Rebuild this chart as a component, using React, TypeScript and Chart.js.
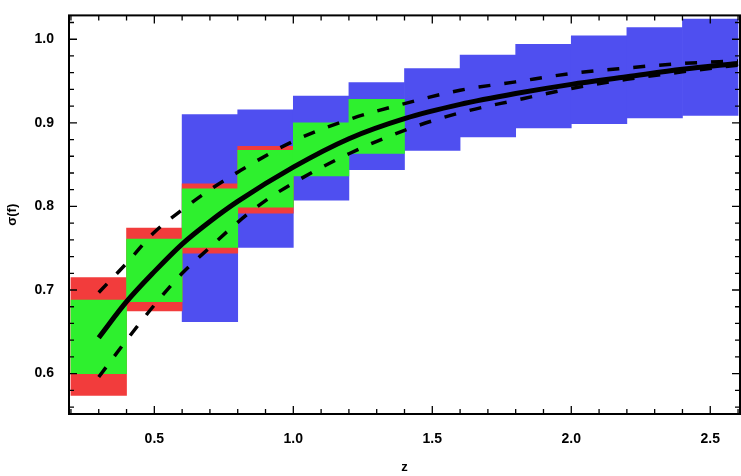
import React, { useEffect, useRef } from "react";
import { Chart, registerables } from "chart.js";

Chart.register(...registerables);

// Bins (lower edges) of width 0.2 in z
const binLow = [0.2, 0.4, 0.6, 0.8, 1.0, 1.2, 1.4, 1.6, 1.8, 2.0, 2.2, 2.4];
const binWidth = 0.2;

// Outer (blue) band
const blueLow = [null, null, 0.662, 0.751, 0.8075, 0.844, 0.867, 0.883, 0.894, 0.899, 0.906, 0.909];
const blueHigh = [null, null, 0.91, 0.9155, 0.932, 0.948, 0.965, 0.981, 0.994, 1.004, 1.014, 1.024];

// Middle (red) band
const redLow = [0.574, 0.675, 0.744, 0.792, null, null, null, null, null, null, null, null];
const redHigh = [0.715, 0.774, 0.827, 0.872, null, null, null, null, null, null, null, null];

// Inner (green) band
const greenLow = [0.6, 0.686, 0.751, 0.799, 0.8365, 0.8634, null, null, null, null, null, null];
const greenHigh = [0.688, 0.761, 0.821, 0.867, 0.9, 0.928, null, null, null, null, null, null];

// Solid curve
const solidX = [0.3, 0.4, 0.5, 0.6, 0.7, 0.8, 1.0, 1.2, 1.4, 1.6, 1.8, 2.0, 2.2, 2.4, 2.6];
const solidY = [0.643, 0.686, 0.722, 0.755, 0.782, 0.806, 0.847, 0.881, 0.905, 0.922, 0.935, 0.946, 0.955, 0.964, 0.971];

// Upper dashed curve
const upperX = [0.3, 0.4, 0.5, 0.6, 0.7, 0.8, 1.0, 1.2, 1.4, 1.6, 1.8, 2.0, 2.2, 2.4, 2.6];
const upperY = [0.697, 0.732, 0.769, 0.796, 0.82, 0.841, 0.878, 0.904, 0.923, 0.939, 0.949, 0.959, 0.9656, 0.971, 0.974];

// Lower dashed curve
const lowerX = [0.3, 0.4, 0.5, 0.6, 0.7, 0.8, 0.9, 1.0, 1.2, 1.4, 1.6, 1.8, 2.0, 2.2, 2.4, 2.6];
const lowerY = [0.596, 0.64, 0.682, 0.72, 0.751, 0.781, 0.807, 0.828, 0.863, 0.891, 0.912, 0.927, 0.941, 0.952, 0.961, 0.969];

const xMin = 0.193;
const xMax = 2.607;
const yMin = 0.5517;
const yMax = 1.0285;

const xTitle = "z";
const yTitle = "σ(f)";

const BLUE = "#4f4ff0";
const RED = "#f23c3c";
const GREEN = "#2ef02e";

const tickFont = { family: "'Liberation Sans', 'DejaVu Sans', sans-serif", size: 14, weight: "bold" as const };

function bandData(low: (number | null)[], high: (number | null)[]) {
  const out: { x: number; y: [number, number] }[] = [];
  binLow.forEach((b, i) => {
    const lo = low[i];
    const hi = high[i];
    if (lo !== null && hi !== null) out.push({ x: b + binWidth / 2, y: [lo, hi] });
  });
  return out;
}

function lineData(xs: number[], ys: number[]) {
  return xs.map((x, i) => ({ x, y: ys[i] }));
}

const isMult = (v: number, step: number) => Math.abs(v / step - Math.round(v / step)) < 1e-6;

const framePlugin = {
  id: "frame",
  afterDatasetsDraw(chart: any) {
    const { ctx, chartArea } = chart;
    const xs = chart.scales.x;
    const ys = chart.scales.y;
    const { left, right, top, bottom } = chartArea;
    ctx.save();
    ctx.strokeStyle = "#000";
    ctx.lineWidth = 1.3;
    for (let k = Math.ceil(xs.min / 0.1 - 1e-9); k * 0.1 <= xs.max + 1e-9; k++) {
      const v = k * 0.1;
      const px = xs.getPixelForValue(v);
      const len = isMult(v, 0.5) ? 8 : 5;
      ctx.beginPath();
      ctx.moveTo(px, bottom);
      ctx.lineTo(px, bottom - len);
      ctx.moveTo(px, top);
      ctx.lineTo(px, top + len);
      ctx.stroke();
    }
    for (let k = Math.ceil(ys.min / 0.02 - 1e-9); k * 0.02 <= ys.max + 1e-9; k++) {
      const v = k * 0.02;
      const py = ys.getPixelForValue(v);
      const len = isMult(v, 0.1) ? 8 : 5;
      ctx.beginPath();
      ctx.moveTo(left, py);
      ctx.lineTo(left + len, py);
      ctx.moveTo(right, py);
      ctx.lineTo(right - len, py);
      ctx.stroke();
    }
    ctx.lineWidth = 2;
    ctx.strokeRect(left, top, right - left, bottom - top);
    ctx.restore();
  },
};

export default function App() {
  const ref = useRef<HTMLCanvasElement | null>(null);

  useEffect(() => {
    document.body.style.margin = "0";
    const canvas = ref.current;
    if (!canvas) return;
    const lineCommon = {
      type: "line",
      xAxisID: "x",
      yAxisID: "y",
      borderColor: "#000",
      pointRadius: 0,
      cubicInterpolationMode: "monotone",
      fill: false,
      order: 0,
    };
    const barCommon = {
      type: "bar",
      xAxisID: "xb",
      yAxisID: "y",
      borderWidth: 0,
      grouped: false,
      categoryPercentage: 1,
      barPercentage: 1,
    };
    const chart = new Chart(canvas, {
      type: "bar",
      data: {
        datasets: [
          { ...lineCommon, data: lineData(solidX, solidY), borderWidth: 5 } as any,
          { ...lineCommon, data: lineData(upperX, upperY), borderWidth: 3.5, borderDash: [12, 14] } as any,
          { ...lineCommon, data: lineData(lowerX, lowerY), borderWidth: 3.5, borderDash: [12, 14] } as any,
          { ...barCommon, data: bandData(greenLow, greenHigh), backgroundColor: GREEN, order: 1 } as any,
          { ...barCommon, data: bandData(redLow, redHigh), backgroundColor: RED, order: 2 } as any,
          { ...barCommon, data: bandData(blueLow, blueHigh), backgroundColor: BLUE, order: 3 } as any,
        ],
      },
      options: {
        animation: false,
        responsive: false,
        events: [],
        layout: { padding: { top: 2, right: 1, left: 0, bottom: 0 } },
        plugins: { legend: { display: false }, tooltip: { enabled: false } },
        scales: {
          x: {
            type: "linear",
            position: "bottom",
            offset: false,
            min: xMin,
            max: xMax,
            grid: { display: false, offset: false },
            border: { display: false },
            ticks: {
              stepSize: 0.5,
              includeBounds: false,
              autoSkip: false,
              maxRotation: 0,
              padding: 9,
              color: "#000",
              font: tickFont,
              callback: (v: any) => (isMult(Number(v), 0.5) ? Number(v).toFixed(1) : ""),
            },
            title: {
              display: true,
              text: xTitle,
              color: "#000",
              font: { family: "'Liberation Sans', 'DejaVu Sans', sans-serif", size: 13, weight: "bold" },
              padding: { top: 0, bottom: 1 },
            },
            afterFit: (s: any) => {
              s.height = 62;
            },
          },
          xb: {
            type: "linear",
            display: false,
            offset: false,
            min: xMin,
            max: xMax,
            grid: { offset: false },
            afterBuildTicks: (s: any) => {
              s.ticks = [];
            },
          },
          y: {
            type: "linear",
            position: "left",
            min: yMin,
            max: yMax,
            grid: { display: false },
            border: { display: false },
            ticks: {
              stepSize: 0.1,
              includeBounds: false,
              autoSkip: false,
              padding: 7,
              color: "#000",
              font: tickFont,
              callback: (v: any) => (isMult(Number(v), 0.1) ? Number(v).toFixed(1) : ""),
            },
            title: {
              display: true,
              text: yTitle,
              color: "#000",
              font: { family: "'Liberation Sans', 'DejaVu Sans', sans-serif", size: 13, weight: "bold" },
              padding: { top: 5, bottom: 0 },
            },
            afterFit: (s: any) => {
              s.width = 69;
            },
          },
        },
      } as any,
      plugins: [framePlugin],
    });
    return () => chart.destroy();
  }, []);

  return (
    <div style={{ width: 741, height: 476 }}>
      <canvas ref={ref} width={741} height={476} style={{ width: 741, height: 476, display: "block" }} />
    </div>
  );
}
